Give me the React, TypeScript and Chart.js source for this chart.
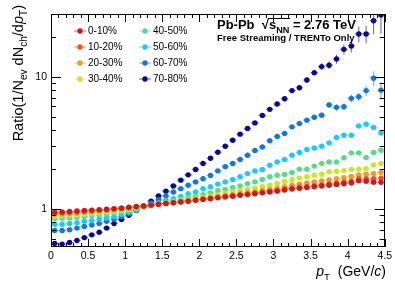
import React, { useEffect, useRef } from "react";
import { Chart, registerables } from "chart.js";

Chart.register(...registerables);

// ---------------- data ----------------
const PT_BINS = [
  0.05, 0.15, 0.25, 0.35, 0.45, 0.55, 0.65, 0.75, 0.85, 0.95,
  1.05, 1.15, 1.25, 1.35, 1.45, 1.55, 1.65, 1.75, 1.85, 1.95,
  2.05, 2.15, 2.25, 2.35, 2.45, 2.55, 2.65, 2.75, 2.85, 2.95,
  3.05, 3.15, 3.25, 3.35, 3.45, 3.55, 3.65, 3.75, 3.85, 3.95,
  4.05, 4.15, 4.25, 4.35, 4.45,
];
const BIN_HALF_WIDTH = 0.05;

const CENTRALITY = ["0-10%", "10-20%", "20-30%", "30-40%", "40-50%", "50-60%", "60-70%", "70-80%"];
const COLORS = ["#cc1a1a", "#ff4d1a", "#f09a2a", "#c8e62a", "#5ad98c", "#1ec8ff", "#1478d4", "#0a0a8c"];

const RATIO_0_10 = [
  0.95, 0.955, 0.962, 0.97, 0.978, 0.985, 0.993, 1.0, 1.01, 1.02,
  1.035, 1.05, 1.06, 1.075, 1.09, 1.105, 1.12, 1.135, 1.15, 1.17,
  1.185, 1.2, 1.22, 1.24, 1.255, 1.275, 1.29, 1.31, 1.33, 1.35,
  1.37, 1.4, 1.42, 1.44, 1.46, 1.48, 1.5, 1.52, 1.54, 1.56,
  1.58, 1.64, 1.63, 1.6, 1.6,
];
const RATIO_10_20 = [
  0.937, 0.94, 0.948, 0.956, 0.965, 0.975, 0.985, 0.995, 1.005, 1.017,
  1.03, 1.045, 1.06, 1.075, 1.09, 1.105, 1.12, 1.14, 1.155, 1.175,
  1.19, 1.21, 1.23, 1.25, 1.265, 1.285, 1.305, 1.325, 1.345, 1.37,
  1.39, 1.42, 1.45, 1.47, 1.49, 1.51, 1.53, 1.56, 1.58, 1.61,
  1.63, 1.7, 1.7, 1.7, 1.72,
];
const RATIO_20_30 = [
  0.917, 0.92, 0.928, 0.937, 0.947, 0.957, 0.968, 0.98, 0.992, 1.005,
  1.02, 1.035, 1.055, 1.07, 1.09, 1.105, 1.125, 1.145, 1.165, 1.185,
  1.205, 1.225, 1.25, 1.27, 1.29, 1.315, 1.335, 1.36, 1.385, 1.41,
  1.44, 1.48, 1.52, 1.55, 1.58, 1.61, 1.64, 1.67, 1.7, 1.73,
  1.77, 1.82, 1.84, 1.86, 1.9,
];
const RATIO_30_40 = [
  0.885, 0.888, 0.896, 0.905, 0.916, 0.928, 0.94, 0.953, 0.967, 0.982,
  1.0, 1.02, 1.045, 1.065, 1.09, 1.11, 1.135, 1.16, 1.185, 1.21,
  1.235, 1.26, 1.29, 1.32, 1.35, 1.38, 1.41, 1.44, 1.48, 1.52,
  1.57, 1.62, 1.67, 1.72, 1.76, 1.81, 1.84, 1.92, 1.94, 1.96,
  2.0, 2.01, 2.03, 2.16, 2.22,
];
const RATIO_40_50 = [
  0.85, 0.853, 0.86, 0.87, 0.88, 0.893, 0.906, 0.92, 0.937, 0.955,
  0.975, 1.0, 1.04, 1.06, 1.095, 1.13, 1.16, 1.19, 1.23, 1.25,
  1.29, 1.33, 1.38, 1.41, 1.46, 1.5, 1.56, 1.61, 1.68, 1.76,
  1.81, 1.83, 1.9, 2.01, 2.01, 2.12, 2.22, 2.28, 2.28, 2.45,
  2.67, 2.67, 2.46, 2.69, 2.8,
];
const RATIO_50_60 = [
  0.77, 0.77, 0.78, 0.79, 0.81, 0.82, 0.84, 0.86, 0.88, 0.91,
  0.95, 0.99, 1.04, 1.08, 1.12, 1.17, 1.2, 1.25, 1.31, 1.35,
  1.43, 1.48, 1.55, 1.61, 1.68, 1.76, 1.86, 1.95, 2.0, 2.15,
  2.28, 2.38, 2.56, 2.69, 2.83, 2.91, 3.0, 3.18, 3.49, 3.63,
  3.63, 4.27, 4.4, 4.16, 3.79,
];
const RATIO_60_70 = [
  0.69, 0.69, 0.7, 0.72, 0.74, 0.76, 0.78, 0.81, 0.84, 0.88,
  0.93, 0.98, 1.05, 1.11, 1.18, 1.26, 1.35, 1.43, 1.52, 1.61,
  1.7, 1.8, 1.95, 2.1, 2.22, 2.38, 2.56, 2.78, 2.96, 3.3,
  3.55, 3.74, 4.2, 4.45, 4.72, 4.96, 5.15, 6.16, 5.9, 5.96,
  6.9, 7.1, 7.9, 9.8, 7.96,
];
const RATIO_70_80 = [
  0.55, 0.545, 0.56, 0.58, 0.61, 0.64, 0.67, 0.72, 0.78, 0.835,
  0.9, 0.98, 1.06, 1.15, 1.26, 1.37, 1.5, 1.66, 1.82, 2.0,
  2.22, 2.43, 2.7, 3.0, 3.33, 3.7, 4.08, 4.5, 5.13, 5.7,
  6.25, 6.85, 7.9, 8.3, 9.5, 10.8, 12.0, 12.3, 13.7, 16.2,
  17.2, 21.2, 21.2, 26.7, 29.5,
];

// relative statistical errors (percent)
const ERR_0_10 = [
  0.8, 0.8, 0.8, 0.8, 0.8, 0.8, 0.8, 0.8, 0.8, 0.8,
  0.8, 0.8, 0.8, 0.8, 0.8, 0.8, 0.8, 0.8, 0.8, 0.8,
  1, 1, 1, 1, 1, 1, 1, 1, 1, 1,
  1.2, 1.2, 1.3, 1.3, 1.4, 1.5, 1.6, 1.7, 1.8, 2,
  2.1, 2.3, 2.5, 2.7, 3,
];
const ERR_10_20 = [
  0.8, 0.8, 0.8, 0.8, 0.8, 0.8, 0.8, 0.8, 0.8, 0.8,
  0.8, 0.8, 0.8, 0.8, 0.8, 0.8, 0.8, 0.8, 0.8, 0.8,
  1, 1, 1, 1, 1, 1, 1, 1, 1, 1,
  1.2, 1.2, 1.3, 1.3, 1.4, 1.5, 1.6, 1.7, 1.8, 2,
  2.1, 2.3, 2.5, 2.7, 3,
];
const ERR_20_30 = [
  0.8, 0.8, 0.8, 0.8, 0.8, 0.8, 0.8, 0.8, 0.8, 0.8,
  0.8, 0.8, 0.8, 0.8, 0.8, 0.8, 0.8, 0.8, 0.8, 0.8,
  1, 1, 1, 1, 1, 1, 1, 1, 1, 1,
  1.2, 1.3, 1.4, 1.5, 1.6, 1.7, 1.8, 1.9, 2, 2.2,
  2.4, 2.6, 2.8, 3, 3.3,
];
const ERR_30_40 = [
  0.8, 0.8, 0.8, 0.8, 0.8, 0.8, 0.8, 0.8, 0.8, 0.8,
  0.8, 0.8, 0.8, 0.8, 0.8, 0.8, 0.8, 0.8, 0.8, 0.8,
  1, 1, 1, 1, 1, 1, 1.1, 1.1, 1.2, 1.2,
  1.3, 1.4, 1.5, 1.6, 1.7, 1.8, 2, 2.1, 2.2, 2.4,
  2.6, 2.8, 3, 3.3, 3.6,
];
const ERR_40_50 = [
  0.8, 0.8, 0.8, 0.8, 0.8, 0.8, 0.8, 0.8, 0.8, 0.8,
  0.8, 0.8, 0.8, 0.8, 0.8, 0.8, 0.8, 0.8, 1, 1,
  1, 1, 1, 1.1, 1.1, 1.2, 1.2, 1.3, 1.3, 1.4,
  1.5, 1.6, 1.7, 1.8, 1.9, 2, 2.2, 2.4, 2.6, 2.8,
  3, 3.2, 3.5, 3.8, 4,
];
const ERR_50_60 = [
  0.8, 0.8, 0.8, 0.8, 0.8, 0.8, 0.8, 0.8, 0.8, 0.8,
  0.8, 0.8, 0.8, 0.8, 1, 1, 1, 1, 1, 1,
  1.1, 1.1, 1.2, 1.2, 1.3, 1.4, 1.5, 1.5, 1.6, 1.7,
  1.8, 1.9, 2, 2.2, 2.4, 2.6, 2.8, 3, 3.2, 3.5,
  3.8, 4, 4.5, 5, 5.5,
];
const ERR_60_70 = [
  1, 1, 1, 1, 1, 1, 1, 1, 1, 1,
  1, 1, 1, 1, 1, 1, 1, 1.5, 1.5, 1.5,
  1.5, 1.5, 2, 2, 2, 2, 2.5, 2.5, 2.5, 3,
  3, 3, 3.5, 3.5, 4, 4, 5, 5, 6, 6,
  7, 7, 9, 13, 15,
];
const ERR_70_80 = [
  1, 1, 1, 1, 1, 1, 1, 1, 1, 1,
  1, 1, 1, 1, 1.5, 1.5, 1.5, 1.5, 2, 2,
  2, 2, 2, 2.5, 2.5, 2.5, 3, 3, 3, 3.5,
  3.5, 4, 4, 4.5, 5, 5, 6, 7, 8, 9,
  11, 14, 15, 21, 28,
];

const SERIES = [RATIO_0_10, RATIO_10_20, RATIO_20_30, RATIO_30_40, RATIO_40_50, RATIO_50_60, RATIO_60_70, RATIO_70_80];
const ERRORS = [ERR_0_10, ERR_10_20, ERR_20_30, ERR_30_40, ERR_40_50, ERR_50_60, ERR_60_70, ERR_70_80];

const X_MIN = 0;
const X_MAX = 4.5;
const Y_MIN = 0.518;
const Y_MAX = 30;
const X_LABEL_TICKS = [0, 0.5, 1, 1.5, 2, 2.5, 3, 3.5, 4, 4.5];
const X_MINOR_STEP = 0.1;
const Y_LABEL_TICKS = [1, 10];
const Y_MINOR_TICKS = [0.6, 0.7, 0.8, 0.9, 2, 3, 4, 5, 6, 7, 8, 9, 20, 30];

const FONT = '"Liberation Sans", Arial, Helvetica, sans-serif';

// ---------------- helpers ----------------
function hexToRgba(hex: string, a: number) {
  const n = parseInt(hex.slice(1), 16);
  return `rgba(${(n >> 16) & 255},${(n >> 8) & 255},${n & 255},${a})`;
}

type Part = { t: string; sub?: boolean; italic?: boolean; bold?: boolean };

function partFont(p: Part, size: number) {
  const s = p.sub ? size * 0.7 : size;
  return `${p.italic ? "italic " : ""}${p.bold ? "bold " : ""}${s}px ${FONT}`;
}
function measureParts(ctx: CanvasRenderingContext2D, parts: Part[], size: number) {
  let w = 0;
  for (const p of parts) {
    ctx.font = partFont(p, size);
    w += ctx.measureText(p.t).width;
  }
  return w;
}
function drawParts(ctx: CanvasRenderingContext2D, parts: Part[], x: number, y: number, size: number) {
  let cx = x;
  ctx.textBaseline = "alphabetic";
  ctx.textAlign = "left";
  for (const p of parts) {
    ctx.font = partFont(p, size);
    ctx.fillText(p.t, cx, p.sub ? y + size * 0.3 : y);
    cx += ctx.measureText(p.t).width;
  }
  return cx;
}

const errorBarPlugin = {
  id: "errorBars",
  beforeDatasetsDraw(chart: any) {
    const { ctx, chartArea } = chart;
    const xs = chart.scales.x;
    const ys = chart.scales.y;
    ctx.save();
    ctx.beginPath();
    ctx.rect(chartArea.left, chartArea.top, chartArea.right - chartArea.left, chartArea.bottom - chartArea.top);
    ctx.clip();
    for (let i = SERIES.length - 1; i >= 0; i--) {
      const vals = SERIES[i];
      const errs = ERRORS[i];
      ctx.strokeStyle = hexToRgba(COLORS[i], 0.55);
      ctx.lineWidth = 1.2;
      ctx.beginPath();
      vals.forEach((v, j) => {
        const xc = xs.getPixelForValue(PT_BINS[j]);
        const x0 = xs.getPixelForValue(PT_BINS[j] - BIN_HALF_WIDTH);
        const x1 = xs.getPixelForValue(PT_BINS[j] + BIN_HALF_WIDTH);
        const y = ys.getPixelForValue(v);
        const e = (v * errs[j]) / 100;
        const ya = ys.getPixelForValue(v + e);
        const yb = ys.getPixelForValue(v - e);
        ctx.moveTo(x0, y);
        ctx.lineTo(x1, y);
        ctx.moveTo(xc, ya);
        ctx.lineTo(xc, yb);
      });
      ctx.stroke();
    }
    ctx.restore();
  },
};

const decorPlugin = {
  id: "decor",
  afterDraw(chart: any) {
    const { ctx, chartArea } = chart;
    const xs = chart.scales.x;
    const ys = chart.scales.y;
    const { left, right, top, bottom } = chartArea;
    ctx.save();
    ctx.strokeStyle = "#000";
    ctx.lineWidth = 1;
    // frame
    ctx.strokeRect(Math.round(left) + 0.5, Math.round(top) + 0.5, Math.round(right - left) - 1, Math.round(bottom - top) - 1);
    // x ticks
    ctx.beginPath();
    const nX = Math.round((X_MAX - X_MIN) / X_MINOR_STEP);
    for (let k = 0; k <= nX; k++) {
      const v = X_MIN + k * X_MINOR_STEP;
      const px = Math.round(xs.getPixelForValue(v)) + 0.5;
      const major = k % 5 === 0;
      const len = major ? 8 : 4;
      ctx.moveTo(px, bottom);
      ctx.lineTo(px, bottom - len);
      ctx.moveTo(px, top);
      ctx.lineTo(px, top + len);
    }
    // y ticks
    const yt = [...Y_LABEL_TICKS.map((v) => [v, 1]), ...Y_MINOR_TICKS.map((v) => [v, 0])];
    for (const [v, major] of yt) {
      const py = Math.round(ys.getPixelForValue(v)) + 0.5;
      const len = major ? 10 : 5;
      ctx.moveTo(left, py);
      ctx.lineTo(left + len, py);
      ctx.moveTo(right, py);
      ctx.lineTo(right - len, py);
    }
    ctx.stroke();

    ctx.fillStyle = "#000";
    // legend
    const rows = [31, 47, 63, 79];
    const cols = [80, 145];
    CENTRALITY.forEach((label, i) => {
      const cx = cols[Math.floor(i / 4)];
      const cy = rows[i % 4];
      ctx.strokeStyle = hexToRgba(COLORS[i], 0.55);
      ctx.lineWidth = 1.2;
      ctx.beginPath();
      ctx.moveTo(cx - 6, cy);
      ctx.lineTo(cx + 6, cy);
      ctx.stroke();
      ctx.fillStyle = COLORS[i];
      ctx.beginPath();
      ctx.arc(cx, cy, 2.7, 0, Math.PI * 2);
      ctx.fill();
      ctx.fillStyle = "#000";
      ctx.font = `10px ${FONT}`;
      ctx.textAlign = "left";
      ctx.textBaseline = "middle";
      ctx.fillText(label, cx + 8, cy + 0.5);
    });

    // title
    ctx.fillStyle = "#000";
    const tSize = 13;
    let x = drawParts(ctx, [{ t: "Pb-Pb  ", bold: true }], 217, 29, tSize);
    ctx.font = `bold ${tSize}px ${FONT}`;
    ctx.fillText("\u221A", x, 29);
    x += ctx.measureText("\u221A").width;
    const sx0 = x;
    x = drawParts(ctx, [{ t: "s", bold: true }, { t: "NN", bold: true, sub: true }], x, 29, tSize);
    ctx.lineWidth = 1;
    ctx.strokeStyle = "#000";
    ctx.beginPath();
    ctx.moveTo(sx0 - 1, 18.5);
    ctx.lineTo(x + 1, 18.5);
    ctx.stroke();
    drawParts(ctx, [{ t: " = 2.76 TeV", bold: true }], x, 29, tSize);
    drawParts(ctx, [{ t: "Free Streaming / TRENTo Only", bold: true }], 217, 41, 9.5);

    // x title
    const xParts: Part[] = [
      { t: "p", italic: true },
      { t: "T", sub: true },
      { t: "  (GeV/" },
      { t: "c", italic: true },
      { t: ")" },
    ];
    const xSize = 14;
    const xw = measureParts(ctx, xParts, xSize);
    drawParts(ctx, xParts, 386 - xw, 276, xSize);

    // y title
    const yParts: Part[] = [
      { t: "Ratio(1/N" },
      { t: "ev", sub: true },
      { t: " dN" },
      { t: "ch", sub: true },
      { t: "/d" },
      { t: "p", italic: true },
      { t: "T", sub: true },
      { t: ")" },
    ];
    const ySize = 14.5;
    const yw = measureParts(ctx, yParts, ySize);
    ctx.save();
    ctx.translate(23, 5 + yw);
    ctx.rotate(-Math.PI / 2);
    drawParts(ctx, yParts, 0, 0, ySize);
    ctx.restore();

    ctx.restore();
  },
};

export default function App() {
  const ref = useRef<HTMLCanvasElement | null>(null);
  useEffect(() => {
    if (!ref.current) return;
    const datasets = SERIES.map((vals, i) => ({
      label: CENTRALITY[i],
      data: vals.map((v, j) => ({ x: PT_BINS[j], y: v })),
      backgroundColor: COLORS[i],
      borderColor: COLORS[i],
      pointRadius: 2.7,
      pointBorderWidth: 0,
      pointHoverRadius: 2.7,
      showLine: false,
    }));
    const chart = new Chart(ref.current, {
      type: "scatter",
      data: { datasets },
      options: {
        animation: false,
        responsive: false,
        devicePixelRatio: 1,
        events: [],
        layout: { padding: { left: 0, right: 10, top: 14, bottom: 0 } },
        plugins: { legend: { display: false }, tooltip: { enabled: false }, title: { display: false } },
        scales: {
          x: {
            type: "linear",
            min: X_MIN,
            max: X_MAX,
            grid: { display: false, drawTicks: false },
            border: { display: false },
            afterBuildTicks: (s: any) => {
              s.ticks = X_LABEL_TICKS.map((v) => ({ value: v }));
            },
            afterFit: (s: any) => {
              s.height = 38;
            },
            ticks: {
              autoSkip: false,
              maxRotation: 0,
              padding: 3,
              color: "#000",
              font: { family: FONT, size: 10.5 },
              callback: (v: any) => String(Number(v)),
            },
          },
          y: {
            type: "logarithmic",
            min: Y_MIN,
            max: Y_MAX,
            grid: { display: false, drawTicks: false },
            border: { display: false },
            afterBuildTicks: (s: any) => {
              s.ticks = Y_LABEL_TICKS.map((v) => ({ value: v }));
            },
            afterFit: (s: any) => {
              s.width = 51;
            },
            ticks: {
              autoSkip: false,
              padding: 4,
              color: "#000",
              font: { family: FONT, size: 10.5 },
              callback: (v: any) => String(Number(v)),
            },
          },
        },
      },
      plugins: [errorBarPlugin, decorPlugin],
    } as any);
    return () => chart.destroy();
  }, []);
  return (
    <div style={{ position: "fixed", left: 0, top: 0, width: 395, height: 285, background: "#fff" }}>
      <canvas ref={ref} width={395} height={285} style={{ display: "block", width: 395, height: 285 }} />
    </div>
  );
}
